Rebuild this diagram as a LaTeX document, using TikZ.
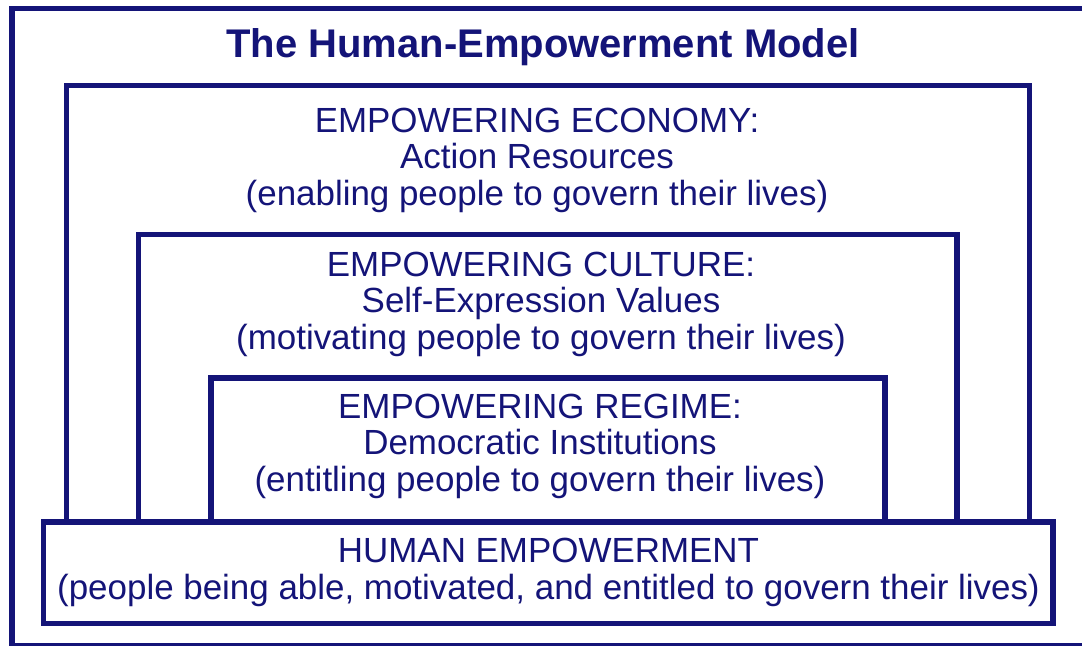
\documentclass[tikz,border=0pt]{standalone}
\usepackage{fontspec}
\setmainfont{Liberation Sans}
\usetikzlibrary{positioning}
\definecolor{navyx}{HTML}{141478}
\tikzset{
  frm/.style={draw=navyx,line width=4.1pt},
  lbl/.style={text=navyx,align=center,inner sep=0pt,font=\fontsize{26.2}{27.4}\selectfont},
  ttl/.style={text=navyx,inner sep=0pt,font=\fontsize{30}{32}\selectfont\bfseries}
}
\begin{document}
\begin{tikzpicture}[x=0.75pt,y=-0.75pt]
\useasboundingbox (0,0) rectangle (1082,646);
% outer frame, the page cuts it on the right and at the bottom
\draw[frm] (12,8.5) rectangle (1095,645.5);
\node[ttl,anchor=base] (title) at (543,57) {The Human-Empowerment Model};
% three nested boxes standing on the base box
\foreach \l/\t/\r in {66.5/85.5/1029.5,138.3/234.5/957.2,211.2/378/885}
  \draw[frm] (\l,522) |- (\r,\t) -- (\r,522);
\draw[frm,fill=white] (43.3,521.8) rectangle (1052.8,623.5);
\node[lbl] (econ) at (537,160) {EMPOWERING ECONOMY:\\Action Resources\\(enabling people to govern their lives)};
\node[lbl] (cult) at (541,304) {EMPOWERING CULTURE:\\Self-Expression Values\\(motivating people to govern their lives)};
\node[lbl] (regime) at (540,446) {EMPOWERING REGIME:\\Democratic Institutions\\(entitling people to govern their lives)};
\node[lbl] (human) at (548.5,572.5) {HUMAN EMPOWERMENT\\(people being able, motivated, and entitled to govern their lives)};
\end{tikzpicture}
\end{document}
